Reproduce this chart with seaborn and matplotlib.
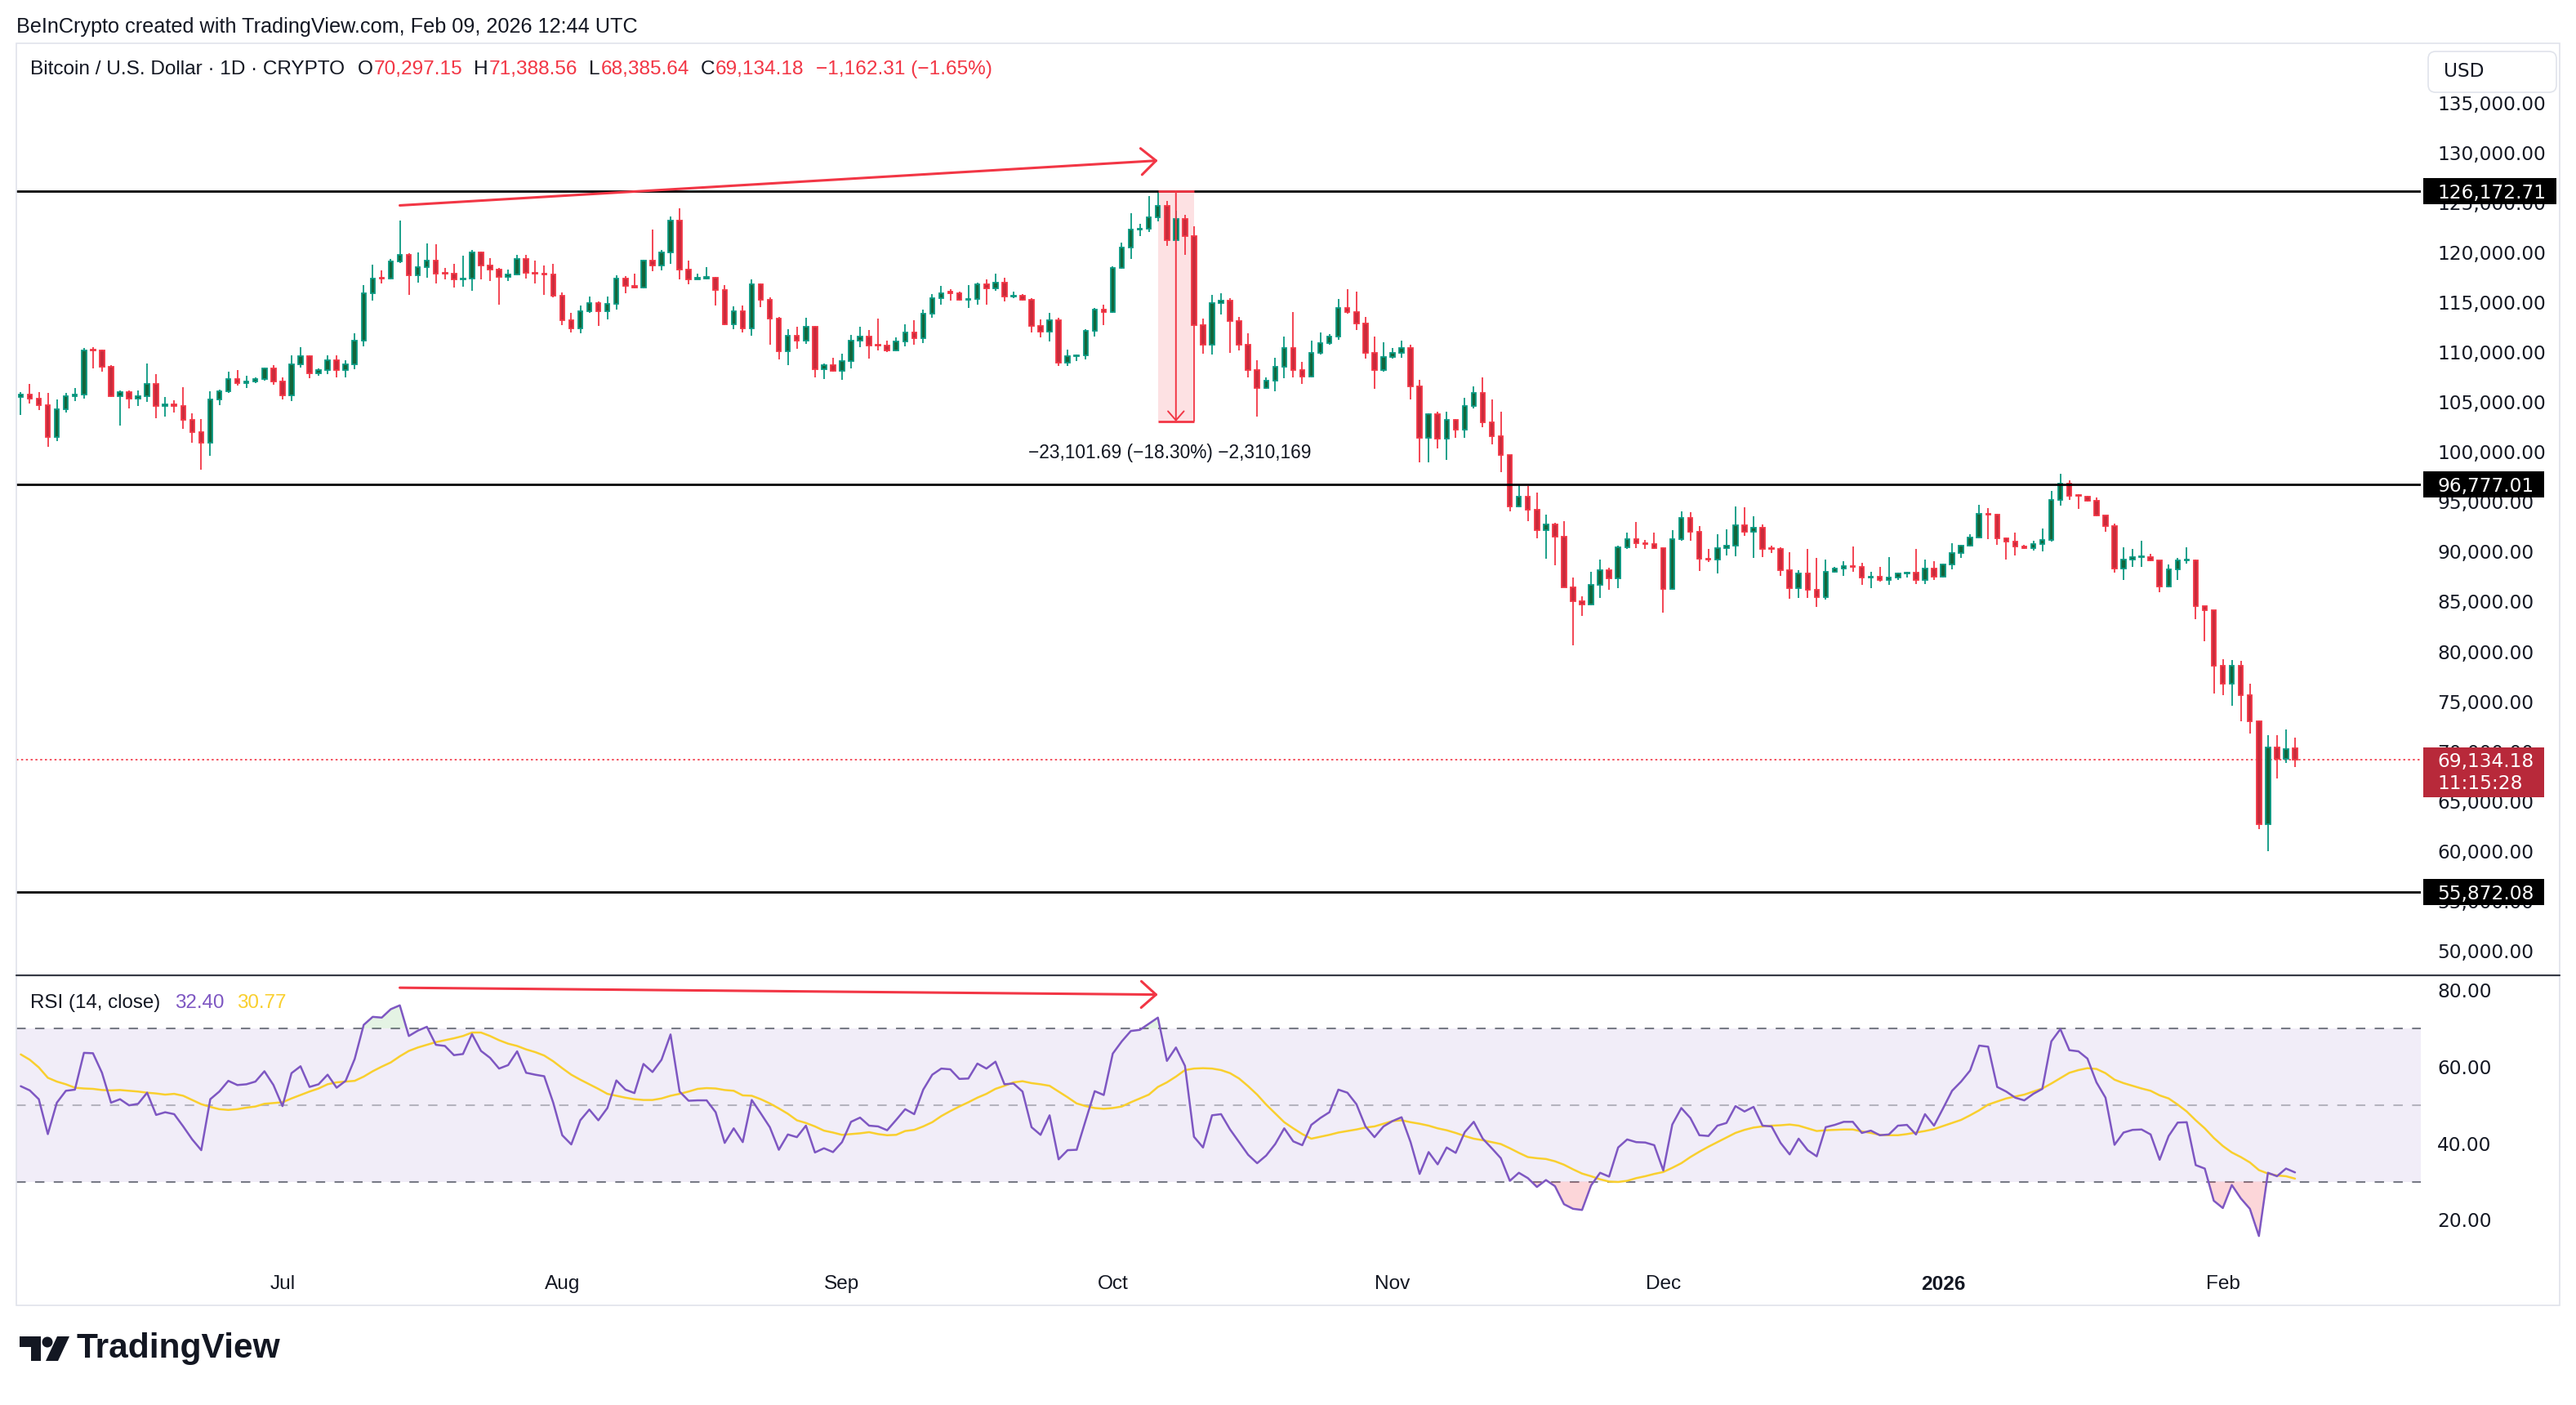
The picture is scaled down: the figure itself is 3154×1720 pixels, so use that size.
import matplotlib
matplotlib.use("Agg")
import matplotlib.pyplot as plt
from matplotlib.patches import Rectangle, FancyBboxPatch, Polygon, Circle
from matplotlib.lines import Line2D
from matplotlib.transforms import IdentityTransform
import numpy as np
import pandas as pd
import seaborn as sns

# ---------------------------------------------------------------- data
# daily candles, BTC/USD, values in thousands of USD
dates = pd.date_range("2025-06-02", "2026-02-09", freq="D")

opens = [
    # Jun
    105.5, 105.8, 105.4, 104.7, 101.5, 104.3, 105.6, 105.8, 110.3, 110.2,
    108.6, 105.6, 106.05, 105.4, 105.6, 106.8, 104.6, 104.8, 104.65, 103.2,
    102.0, 100.96, 105.3, 106.1, 107.3, 106.95, 107.1, 107.3, 108.4,
    # Jul
    107.1, 105.7, 108.8, 109.6, 107.9, 108.2, 109.2, 108.2, 108.8, 111.2,
    115.97, 117.5, 117.4, 119.1, 119.83, 117.7, 118.6, 119.2, 118.0, 117.9,
    117.3, 117.4, 120.02, 118.73, 118.3, 117.6, 117.83, 119.4, 118.0, 117.9,
    117.8,
    # Aug
    115.7, 113.26, 112.45, 114.1, 114.96, 114.1, 114.9, 117.42, 116.66, 116.5,
    119.25, 118.7, 120.07, 123.25, 118.3, 117.37, 117.45, 117.5, 116.25, 112.83,
    114.14, 112.45, 116.87, 115.3, 113.4, 110.1, 111.68, 111.2, 112.55, 108.34,
    108.75,
    # Sep
    108.12, 109.17, 111.2, 111.6, 110.8, 110.7, 110.2, 111.13, 112.0, 111.46,
    113.92, 115.45, 116.1, 115.97, 115.3, 115.4, 116.8, 116.46, 117.01, 115.64,
    115.7, 115.3, 112.69, 112.09, 113.24, 109.0, 109.63, 109.7, 112.17, 114.33,
    # Oct
    114.08, 118.5, 120.51, 122.29, 122.4, 123.54, 124.69, 121.26, 123.38, 121.66,
    112.78, 110.81, 114.96, 115.2, 113.14, 110.75, 108.23, 106.41, 107.17, 108.6,
    110.44, 108.23, 107.56, 109.99, 110.96, 111.63, 114.5, 114.08, 112.87, 109.96,
    108.23,
    # Nov
    109.53, 109.96, 110.44, 106.57, 101.41, 103.84, 101.32, 103.23, 102.23, 104.66,
    105.96, 102.99, 101.56, 99.68, 94.54, 95.5, 94.2, 92.17, 92.78, 91.5,
    86.47, 85.05, 84.7, 86.72, 88.14, 87.32, 90.44, 91.26, 90.9, 90.8,
    # Dec
    90.35, 86.26, 91.26, 93.38, 92.02, 89.29, 89.2, 90.4, 90.6, 92.64,
    91.99, 92.45, 90.3, 90.26, 88.13, 86.38, 87.8, 86.16, 85.42, 88.02,
    88.29, 88.57, 88.5, 87.39, 87.52, 87.17, 87.39, 87.8, 87.9, 87.17,
    88.35,
    # Jan
    87.47, 88.7, 89.85, 90.59, 91.44, 93.8, 93.74, 91.36, 91.03, 90.54,
    90.34, 90.81, 91.16, 95.24, 96.83, 95.68, 95.52, 95.11, 93.63, 92.59,
    88.29, 89.25, 89.44, 89.5, 89.11, 86.49, 88.21, 89.11, 89.11, 84.51,
    84.1,
    # Feb
    78.55, 76.8, 78.57, 75.62, 73.02, 62.67, 70.36, 69.19, 70.29715,
]

highs = [
    106.0, 106.8, 106.0, 105.9, 105.3, 105.9, 106.4, 110.45, 110.5, 110.3,
    108.75, 106.2, 106.2, 106.2, 108.9, 107.8, 105.5, 105.2, 106.5, 103.9,
    103.3, 106.1, 106.3, 108.1, 108.26, 107.7, 107.5, 108.5, 108.75,
    107.5, 109.7, 110.5, 109.7, 108.4, 109.7, 109.7, 109.2, 111.95, 116.74,
    118.8, 118.24, 119.42, 123.22, 119.94, 120.02, 120.97, 120.84, 118.5, 118.85,
    119.69, 120.24, 120.1, 119.5, 118.46, 118.3, 119.75, 119.8, 119.2, 118.7,
    118.9,
    116.0, 113.95, 114.69, 115.64, 115.1, 115.64, 117.7, 117.64, 117.9, 119.3,
    122.29, 120.24, 123.63, 124.45, 119.25, 117.9, 118.6, 117.56, 116.74, 114.63,
    114.74, 117.37, 116.96, 115.56, 113.54, 112.3, 112.55, 113.45, 112.64, 108.86,
    109.44,
    109.85, 111.73, 112.55, 112.23, 113.37, 111.2, 111.54, 112.85, 113.26, 114.28,
    115.86, 116.66, 116.33, 116.11, 116.74, 117.01, 117.29, 117.9, 117.48, 116.14,
    115.84, 115.42, 113.32, 113.95, 113.51, 110.31, 109.76, 112.36, 114.47, 114.8,
    118.65, 121.03, 123.93, 122.89, 125.66, 126.17271, 125.2, 124.2, 123.78, 122.63,
    113.39, 115.81, 115.96, 115.44, 113.6, 111.96, 109.2, 107.47, 109.44, 111.63,
    114.05, 109.08, 111.2, 112.02, 111.87, 115.35, 116.32, 116.11, 113.6, 111.57,
    111.05,
    110.44, 111.17, 110.75, 107.26, 103.9, 104.08, 104.05, 103.29, 105.44, 106.57,
    107.47, 105.26, 104.05, 99.75, 96.72, 96.63, 95.9, 93.75, 92.93, 93.08,
    87.38, 85.5, 88.02, 89.2, 88.44, 90.65, 91.93, 92.99, 91.2, 91.96,
    90.41, 92.17, 94.08, 94.0, 92.62, 90.26, 91.77, 92.26, 94.56, 94.45,
    93.55, 92.72, 90.59, 90.45, 89.99, 88.13, 90.26, 89.36, 89.25, 88.48,
    89.03, 90.54, 88.9, 87.99, 88.48, 89.44, 87.88, 87.99, 90.26, 89.25,
    89.03,
    88.81, 90.86, 90.67, 91.77, 94.7, 94.37, 93.77, 91.44, 91.9, 90.67,
    91.08, 92.32, 96.09, 97.79, 97.16, 95.79, 95.6, 95.41, 93.68, 92.81,
    90.45, 90.26, 91.08, 89.8, 89.17, 88.7, 89.36, 90.45, 89.22, 84.57,
    84.16,
    79.25, 79.18, 79.04, 76.8, 73.1, 71.57, 71.57, 72.14, 71.38856,
]

lows = [
    103.7, 104.9, 104.2, 100.5, 101.1, 104.0, 105.1, 105.4, 108.4, 108.1,
    105.5, 102.7, 104.4, 104.6, 105.0, 103.4, 103.6, 104.0, 102.3, 100.9,
    98.2, 99.65, 104.7, 105.9, 106.7, 106.4, 106.9, 107.2, 106.76,
    105.3, 105.1, 108.5, 107.4, 107.7, 107.85, 107.5, 107.5, 108.3, 110.64,
    115.23, 116.96, 117.3, 119.0, 115.78, 117.0, 117.5, 116.96, 117.37, 116.5,
    116.6, 116.19, 117.3, 117.15, 114.77, 117.15, 117.78, 117.42, 116.93, 115.78,
    115.56,
    112.77, 112.0, 111.9, 114.0, 112.7, 113.3, 114.3, 115.97, 116.4, 116.4,
    118.16, 118.24, 118.87, 117.29, 116.87, 117.29, 117.3, 114.74, 112.77, 112.36,
    112.0, 111.68, 114.55, 110.78, 109.3, 108.75, 110.4, 110.86, 107.52, 107.36,
    108.04,
    107.25, 108.4, 110.5, 109.4, 110.23, 110.0, 110.12, 110.64, 110.78, 110.94,
    113.51, 114.77, 115.23, 115.23, 114.47, 114.8, 114.77, 116.19, 115.15, 115.45,
    115.23, 112.0, 111.54, 111.13, 108.67, 108.67, 109.16, 109.27, 111.62, 112.77,
    114.0, 118.38, 119.34, 121.66, 122.1, 123.17, 120.66, 121.2, 119.75, 103.07102,
    109.84, 109.75, 113.84, 109.96, 110.2, 107.53, 103.6, 106.32, 106.11, 107.41,
    107.47, 106.81, 107.47, 109.75, 110.75, 111.26, 113.9, 112.26, 109.38, 106.35,
    108.1,
    109.38, 109.44, 105.26, 98.99, 98.99, 100.35, 99.23, 101.47, 101.47, 104.35,
    102.47, 100.81, 98.02, 94.05, 94.44, 93.08, 91.32, 89.29, 88.62, 86.4,
    80.65, 83.6, 84.6, 85.35, 86.17, 86.35, 90.26, 90.35, 90.29, 90.29,
    83.9, 86.17, 91.11, 91.11, 88.08, 88.99, 87.8, 89.66, 89.58, 91.63,
    89.36, 89.5, 89.85, 87.61, 85.25, 85.34, 85.34, 84.43, 85.2, 87.88,
    87.61, 87.99, 86.65, 86.38, 86.98, 86.65, 87.2, 87.39, 86.79, 86.79,
    87.2,
    87.44, 88.26, 89.36, 90.54, 91.36, 91.3, 90.67, 89.25, 89.66, 90.26,
    90.12, 90.07, 91.0, 94.59, 95.19, 94.29, 95.0, 93.55, 92.04, 87.88,
    87.2, 88.48, 88.48, 89.03, 85.97, 86.43, 87.2, 88.81, 83.23, 81.04,
    75.81,
    75.62, 74.52, 72.96, 71.79, 62.21, 59.93, 67.27, 68.83, 68.38564,
]

closes = [
    105.8, 105.4, 104.7, 101.5, 104.3, 105.6, 105.8, 110.2, 110.2, 108.6,
    105.6, 106.05, 105.4, 105.6, 106.8, 104.6, 104.8, 104.65, 103.2, 102.0,
    100.96, 105.3, 106.1, 107.3, 106.95, 107.1, 107.3, 108.4, 107.1,
    105.7, 108.8, 109.6, 107.9, 108.2, 109.2, 108.2, 108.8, 111.2, 115.97,
    117.4, 117.4, 119.1, 119.83, 117.7, 118.6, 119.2, 117.9, 117.9, 117.3,
    117.4, 120.02, 118.73, 118.3, 117.6, 117.83, 119.4, 118.0, 117.9, 117.8,
    115.7,
    113.26, 112.45, 114.1, 114.96, 114.1, 114.9, 117.42, 116.66, 116.5, 119.25,
    118.7, 120.07, 123.25, 118.3, 117.37, 117.45, 117.5, 116.25, 112.83, 114.14,
    112.45, 116.87, 115.3, 113.4, 110.1, 111.68, 111.2, 112.55, 108.34, 108.75,
    108.12,
    109.17, 111.2, 111.6, 110.72, 110.7, 110.2, 111.13, 112.0, 111.46, 113.92,
    115.45, 115.97, 115.97, 115.3, 115.4, 116.8, 116.46, 117.01, 115.64, 115.7,
    115.3, 112.69, 112.09, 113.24, 109.0, 109.63, 109.7, 112.17, 114.33, 114.08,
    118.5, 120.51, 122.29, 122.4, 123.54, 124.69, 121.26, 123.38, 121.66, 112.78,
    110.81, 114.96, 115.2, 113.14, 110.75, 108.23, 106.41, 107.17, 108.6, 110.44,
    108.23, 107.56, 109.99, 110.96, 111.63, 114.5, 114.08, 112.87, 109.96, 108.23,
    109.53,
    109.96, 110.44, 106.57, 101.41, 103.84, 101.32, 103.23, 102.23, 104.66, 105.96,
    102.99, 101.56, 99.68, 94.54, 95.5, 94.2, 92.17, 92.78, 91.5, 86.47,
    85.05, 84.7, 86.72, 88.14, 87.32, 90.44, 91.26, 90.9, 90.8, 90.35,
    86.26, 91.26, 93.38, 92.02, 89.29, 89.2, 90.4, 90.6, 92.64, 91.99,
    92.45, 90.26, 90.26, 88.13, 86.38, 87.8, 86.16, 85.42, 88.02, 88.29,
    88.57, 88.5, 87.39, 87.52, 87.17, 87.39, 87.8, 87.9, 87.17, 88.35,
    87.47,
    88.7, 89.85, 90.59, 91.44, 93.77, 93.74, 91.36, 91.03, 90.54, 90.34,
    90.81, 91.16, 95.24, 96.83, 95.6, 95.6, 95.11, 93.63, 92.59, 88.29,
    89.25, 89.5, 89.5, 89.11, 86.49, 88.21, 89.11, 89.17, 84.51, 84.1,
    78.55,
    76.8, 78.57, 75.62, 73.02, 62.67, 70.36, 69.19, 70.23, 69.13418,
]

rsi_values = [
    54.9, 53.8, 51.5, 42.4, 50.6, 53.7, 54.0, 63.6, 63.5, 58.4,
    50.6, 51.5, 49.9, 50.3, 53.2, 47.4, 48.1, 47.6, 44.4, 41.0,
    38.2, 51.5, 53.5, 56.3, 55.2, 55.4, 56.1, 58.8, 55.2,
    49.7, 58.3, 60.1, 54.7, 55.4, 57.9, 54.5, 56.3, 62.0, 70.9,
    73.0, 72.8, 75.0, 76.0, 68.0, 69.4, 70.4, 65.7, 65.4, 63.0,
    63.3, 68.5, 64.1, 62.3, 59.5, 60.4, 64.0, 58.4, 57.9, 57.5,
    50.6,
    42.1, 39.7, 46.0, 48.8, 46.0, 49.2, 56.4, 54.0, 53.1, 60.7,
    58.6, 61.8, 68.4, 53.5, 51.1, 51.2, 51.2, 48.1, 40.1, 43.9,
    40.3, 51.3, 47.8, 44.2, 38.3, 42.3, 41.6, 44.6, 37.6, 38.7,
    37.7,
    40.3, 45.6, 46.7, 44.6, 44.4, 43.4, 46.1, 48.9, 47.6, 54.0,
    57.9, 59.5, 59.3, 56.8, 56.9, 60.8, 59.5, 61.3, 55.4, 55.6,
    53.5, 44.2, 42.2, 47.3, 35.8, 38.2, 38.3, 46.0, 53.6, 52.6,
    63.4, 66.6, 69.3, 69.6, 71.2, 72.8, 61.5, 65.0, 60.2, 41.7,
    38.9, 47.3, 47.6, 43.6, 40.3, 37.0, 34.8, 36.8, 39.8, 43.9,
    40.5, 39.5, 44.8, 46.6, 48.1, 54.0, 53.2, 50.2, 44.4, 41.6,
    44.4,
    45.8, 46.8, 40.3, 32.0, 37.7, 34.5, 38.9, 37.5, 42.9, 45.6,
    41.2, 38.7, 36.1, 30.2, 32.3, 30.9, 28.6, 30.4, 28.8, 24.1,
    22.9, 22.6, 29.0, 32.3, 31.3, 38.9, 41.0, 40.3, 40.2, 39.5,
    32.9, 44.9, 49.2, 46.6, 42.1, 41.9, 44.6, 45.3, 49.7, 48.3,
    49.5, 44.6, 44.4, 40.1, 37.1, 41.2, 38.2, 36.6, 44.2, 44.8,
    45.6, 45.6, 42.7, 43.3, 42.1, 42.3, 44.6, 44.8, 42.3, 47.6,
    44.6,
    49.1, 53.7, 56.1, 59.0, 65.5, 65.2, 54.7, 53.5, 51.9, 51.2,
    52.9, 54.2, 66.6, 69.8, 64.3, 64.0, 62.1, 55.9, 51.9, 39.6,
    42.8, 43.5, 43.6, 42.3, 35.7, 41.9, 45.4, 45.5, 34.3, 33.4,
    25.0,
    23.1, 29.1, 25.6, 22.9, 15.8, 32.3, 31.4, 33.4, 32.40,
]

rsi_ma_values = [
    63.2, 61.8, 59.8, 57.1, 56.1, 55.4, 54.5, 54.3, 54.2, 53.9,
    53.8, 53.9, 53.7, 53.5, 53.2, 53.0, 52.7, 52.9, 52.4, 51.3,
    50.2, 49.5, 48.9, 48.7, 48.9, 49.3, 49.6, 50.3, 50.5,
    50.7, 51.7, 52.6, 53.5, 54.3, 55.4, 55.9, 56.1, 56.3, 57.4,
    58.8, 60.0, 61.1, 62.7, 64.1, 65.0, 65.7, 66.4, 66.9, 67.4,
    68.0, 68.9, 68.9, 68.0, 66.9, 66.0, 65.4, 64.5, 63.8, 62.9,
    61.4,
    59.6, 57.9, 56.6, 55.4, 54.2, 52.9, 52.4, 51.9, 51.5, 51.3,
    51.3, 51.7, 52.4, 52.9, 53.5, 54.2, 54.4, 54.3, 53.9, 53.7,
    52.5, 52.4, 51.5, 50.4, 49.1, 47.7, 46.0, 45.3, 44.4, 43.3,
    42.8,
    42.2, 42.4, 42.6, 42.9, 42.4, 42.1, 42.2, 43.2, 43.5, 44.4,
    45.5, 47.1, 48.4, 49.6, 50.7, 51.9, 52.9, 54.2, 55.0, 55.9,
    56.2, 55.7, 55.4, 55.0, 53.5, 52.0, 50.4, 49.7, 49.2, 49.0,
    49.2, 49.6, 50.7, 51.7, 52.7, 54.7, 55.9, 57.4, 59.1, 59.5,
    59.6, 59.5, 59.1, 58.3, 56.9, 54.9, 52.7, 50.1, 47.8, 45.5,
    43.9, 42.4, 41.2, 41.7, 42.2, 42.8, 43.2, 43.6, 44.1, 44.4,
    45.1,
    45.8, 46.0, 45.5, 45.1, 44.6, 43.9, 43.4, 42.7, 41.9, 41.2,
    40.8, 40.3, 39.8, 38.7, 37.5, 36.4, 36.1, 35.9, 35.3, 34.4,
    33.2, 32.1, 31.4, 30.6, 30.0, 29.9, 30.2, 30.9, 31.4, 32.0,
    32.5, 33.6, 34.8, 36.4, 37.8, 39.1, 40.3, 41.5, 42.7, 43.5,
    44.1, 44.4, 44.6, 44.7, 44.9, 44.6, 43.9, 43.2, 43.4, 43.5,
    43.6, 43.6, 43.1, 42.7, 42.2, 42.1, 42.1, 42.4, 42.8, 43.2,
    43.7,
    44.5, 45.3, 46.1, 47.3, 48.6, 50.1, 50.9, 51.7, 52.2, 52.7,
    53.5, 54.3, 55.6, 57.0, 58.4, 59.1, 59.6, 59.4, 58.3, 56.6,
    55.7, 55.0, 54.3, 53.7, 52.5, 51.7, 50.1, 48.3, 46.0, 43.9,
    41.4,
    39.3, 37.6, 36.4, 35.0, 33.0, 32.1, 31.6, 31.4, 30.77,
]

# drawn levels and annotations (USD)
level_lines = [126172.71, 96777.01, 55872.08]
last_price = 69134.18
countdown = "11:15:28"
range_top = 126172.71
range_low = 103071.02
range_text = "\u221223,101.69 (\u221218.30%) \u22122,310,169"
price_trend = [(42, 124750), (126, 129250)]
rsi_trend = [(42, 80.6), (126, 78.8)]

# ---------------------------------------------------------------- style
GREEN = "#089981"
GREEN_FILL = "#13653a"
RED = "#f23645"
RED_FILL = "#c92b3b"
INK = "#131722"
PURPLE = "#7e57c2"
YELLOW = "#f9cf2e"
AXIS_FONT = "DejaVu Sans"
TEXT_FONT = "Liberation Sans"

sns.set_theme(style="white")
plt.rcParams["font.family"] = ["Liberation Sans", "DejaVu Sans"]

W, H = 3154, 1720


def fig_box(x0, y0, x1, y1):
    # pixel box (top-left origin) -> figure fraction rect
    return [x0 / W, 1 - y1 / H, (x1 - x0) / W, (y1 - y0) / H]


df = pd.DataFrame({
    "date": dates,
    "open": np.array(opens) * 1000,
    "high": np.array(highs) * 1000,
    "low": np.array(lows) * 1000,
    "close": np.array(closes) * 1000,
    "rsi": rsi_values,
    "rsi_ma": rsi_ma_values,
})
df["idx"] = np.arange(len(df))

fig = plt.figure(figsize=(W / 200, H / 200), dpi=200, facecolor="white")
ax_p = fig.add_axes(fig_box(20, 53, 2964, 1193))
ax_r = fig.add_axes(fig_box(20, 1195, 2964, 1542), sharex=ax_p)

# ---------------------------------------------------------------- candles
up = df["close"] >= df["open"]
for mask, edge, face in [(up, GREEN, GREEN_FILL), (~up, RED, RED_FILL)]:
    d = df[mask]
    ax_p.vlines(d["idx"], d["low"], d["high"], color=edge, lw=0.65, zorder=3)
    bottom = d[["open", "close"]].min(axis=1)
    height = (d["close"] - d["open"]).abs().clip(lower=90)
    ax_p.bar(d["idx"], height, bottom=bottom, width=0.5, color=face,
             edgecolor=edge, linewidth=0.65, zorder=4)

for level in level_lines:
    ax_p.axhline(level, color="black", lw=1.0, zorder=5)
ax_p.axhline(last_price, color=RED, lw=0.6, ls=(0, (1.5, 2.0)), zorder=2)

# price range measurement (Oct 6 high -> Oct 10 low)
ax_p.add_patch(Rectangle((126, range_low), 4, range_top - range_low,
                         facecolor=RED, alpha=0.15, lw=0, zorder=2))
ax_p.hlines([range_top, range_low], 126, 130, color=RED, lw=1.0, zorder=6)
ax_p.annotate("", xy=(128, range_low), xytext=(128, range_top),
              arrowprops=dict(arrowstyle="->,head_length=0.4,head_width=0.35",
                              color=RED, lw=0.7, shrinkA=0, shrinkB=0,
                              mutation_scale=10), zorder=6)
ax_p.text(127.3, 99900, range_text, ha="center", va="center", fontsize=8.2,
          family=TEXT_FONT, color=INK)

# trend arrows
for ax, (p0, p1) in [(ax_p, price_trend), (ax_r, rsi_trend)]:
    ax.annotate("", xy=p1, xytext=p0,
                arrowprops=dict(arrowstyle="->,head_length=0.65,head_width=0.58",
                                color=RED, lw=1.1, shrinkA=0, shrinkB=0,
                                mutation_scale=10), zorder=7,
                annotation_clip=False)

# ---------------------------------------------------------------- RSI pane
ax_r.axhspan(30, 70, color=PURPLE, alpha=0.1, lw=0, zorder=0)
for lvl, alpha in [(70, 1.0), (50, 0.5), (30, 1.0)]:
    ax_r.axhline(lvl, color="#787b86", alpha=alpha, lw=0.75,
                 ls=(0, (5.5, 5.5)), zorder=1)
rsi = df["rsi"].to_numpy()
ax_r.fill_between(df["idx"], rsi, 70, where=rsi >= 70, interpolate=True,
                  color="#4caf50", alpha=0.15, lw=0)
ax_r.fill_between(df["idx"], rsi, 30, where=rsi <= 30, interpolate=True,
                  color=RED, alpha=0.2, lw=0)
sns.lineplot(data=df, x="idx", y="rsi_ma", ax=ax_r, color=YELLOW, lw=0.9)
sns.lineplot(data=df, x="idx", y="rsi", ax=ax_r, color=PURPLE, lw=0.9)

# ---------------------------------------------------------------- axes
ax_p.set_xlim(-0.49, 265.94)
ax_p.set_ylim(47588, 141015)
ax_r.set_ylim(9.64, 83.62)

price_ticks = np.arange(50000, 135001, 5000)
ax_p.yaxis.tick_right()
ax_p.set_yticks(price_ticks)
ax_p.set_yticklabels([f"{v:,.2f}" for v in price_ticks], family=AXIS_FONT)
ax_r.yaxis.tick_right()
rsi_ticks = [20, 40, 60, 80]
ax_r.set_yticks(rsi_ticks)
ax_r.set_yticklabels([f"{v:.2f}" for v in rsi_ticks], family=AXIS_FONT)

month_idx = [i for i, d in enumerate(dates) if d.day == 1]
month_lab = [str(dates[i].year) if dates[i].month == 1 else dates[i].strftime("%b")
             for i in month_idx]
ax_r.set_xticks(month_idx)
ax_r.set_xticklabels(month_lab, family=TEXT_FONT)
for lab in ax_r.get_xticklabels():
    if lab.get_text() == "2026":
        lab.set_fontweight("bold")

for ax in (ax_p, ax_r):
    ax.set_facecolor("none")
    ax.set_xlabel("")
    ax.set_ylabel("")
    ax.grid(False)
    for s in ax.spines.values():
        s.set_visible(False)
    ax.tick_params(axis="y", length=0, pad=7.2, labelsize=8.4, labelcolor=INK)
ax_p.tick_params(axis="x", length=0, labelbottom=False)
ax_r.tick_params(axis="x", length=0, pad=7.0, labelsize=8.8, labelcolor=INK)

# ---------------------------------------------------------------- frame and texts
ident = IdentityTransform()
fig.add_artist(Rectangle((20, H - 1598), 3114, 1545, transform=ident,
                         fill=False, edgecolor="#e0e3eb", lw=0.6, zorder=1))
fig.add_artist(Line2D([20, 3134], [H - 1194, H - 1194], transform=ident,
                      color="#363a45", lw=0.8, zorder=2))

fig.text(20 / W, 1 - 33 / H,
         "BeInCrypto created with TradingView.com, Feb 09, 2026 12:44 UTC",
         fontsize=9.1, family=TEXT_FONT, color=INK, ha="left", va="center")


def text_chain(x_px, y_px, pieces, size):
    first, color, _ = pieces[0]
    prev = fig.text(x_px / W, 1 - y_px / H, first, color=color, fontsize=size,
                    family=TEXT_FONT, ha="left", va="center")
    for txt, color, gap in pieces[1:]:
        prev = ax_p.annotate(txt, xy=(1, 0), xycoords=prev, xytext=(gap, 0),
                             textcoords="offset points", ha="left", va="bottom",
                             color=color, fontsize=size, family=TEXT_FONT,
                             annotation_clip=False)


text_chain(37, 85, [
    ("Bitcoin / U.S. Dollar \u00b7 1D \u00b7 CRYPTO", INK, 0),
    ("O", INK, 5.8), ("70,297.15", RED, 0.3),
    ("H", INK, 5.0), ("71,388.56", RED, 0.3),
    ("L", INK, 5.0), ("68,385.64", RED, 0.3),
    ("C", INK, 5.0), ("69,134.18", RED, 0.3),
    ("\u22121,162.31 (\u22121.65%)", RED, 5.0),
], 8.8)
text_chain(37, 1228, [
    ("RSI (14, close)", INK, 0),
    (f"{rsi_values[-1]:.2f}", PURPLE, 6.3),
    (f"{rsi_ma_values[-1]:.2f}", YELLOW, 5.8),
], 8.7)

# price tags on the right scale
tags = []
for level in level_lines:
    y_disp = ax_p.transData.transform((0, level))[1]
    t = fig.text(2984 / W, y_disp / H, f"{level:,.2f}", color="white",
                 fontsize=8.4, family=AXIS_FONT, ha="left", va="center_baseline",
                 zorder=6)
    tags.append((t, y_disp, "black", 16, 16))
y_last = ax_p.transData.transform((0, last_price))[1]
t_last = fig.text(2984 / W, y_last / H, f"{last_price:,.2f}", color="white",
                  fontsize=8.4, family=AXIS_FONT, ha="left", va="center_baseline",
                  zorder=6)
fig.text(2984 / W, (y_last - 27) / H, countdown, color="white", fontsize=8.4,
         family=AXIS_FONT, ha="left", va="center_baseline", zorder=6)
tags.append((t_last, y_last, "#b8293a", 15.5, 45.5))

fig.canvas.draw()
renderer = fig.canvas.get_renderer()
for t, y_disp, color, above, below in tags:
    bb = t.get_window_extent(renderer)
    fig.add_artist(Rectangle((2967, y_disp - below), bb.x1 + 13 - 2967,
                             above + below, transform=ident, facecolor=color,
                             edgecolor="none", zorder=5))

fig.add_artist(FancyBboxPatch((2973, H - 113), 157, 50,
                              boxstyle="round,pad=0,rounding_size=9",
                              transform=ident, facecolor="white",
                              edgecolor="#e0e3eb", lw=0.6, zorder=5))
fig.text(2992 / W, 1 - 87 / H, "USD", fontsize=8.4, family=AXIS_FONT,
         color=INK, ha="left", va="center", zorder=6)

# TradingView logo
fig.add_artist(Polygon([(24, H - 1636), (50, H - 1636), (50, H - 1666),
                        (38, H - 1666), (38, H - 1649), (24, H - 1649)],
                       closed=True, transform=ident, color=INK, lw=0))
fig.add_artist(Circle((58, H - 1643), 6.5, transform=ident, color=INK, lw=0))
fig.add_artist(Polygon([(70, H - 1636), (85, H - 1636), (71, H - 1666),
                        (56, H - 1666)], closed=True, transform=ident,
                       color=INK, lw=0))
fig.text(94 / W, 1 - 1651 / H, "TradingView", fontsize=15.3, fontweight="bold",
         family=TEXT_FONT, color=INK, ha="left", va="center")

fig.savefig("out.png", dpi=200, facecolor="white")
